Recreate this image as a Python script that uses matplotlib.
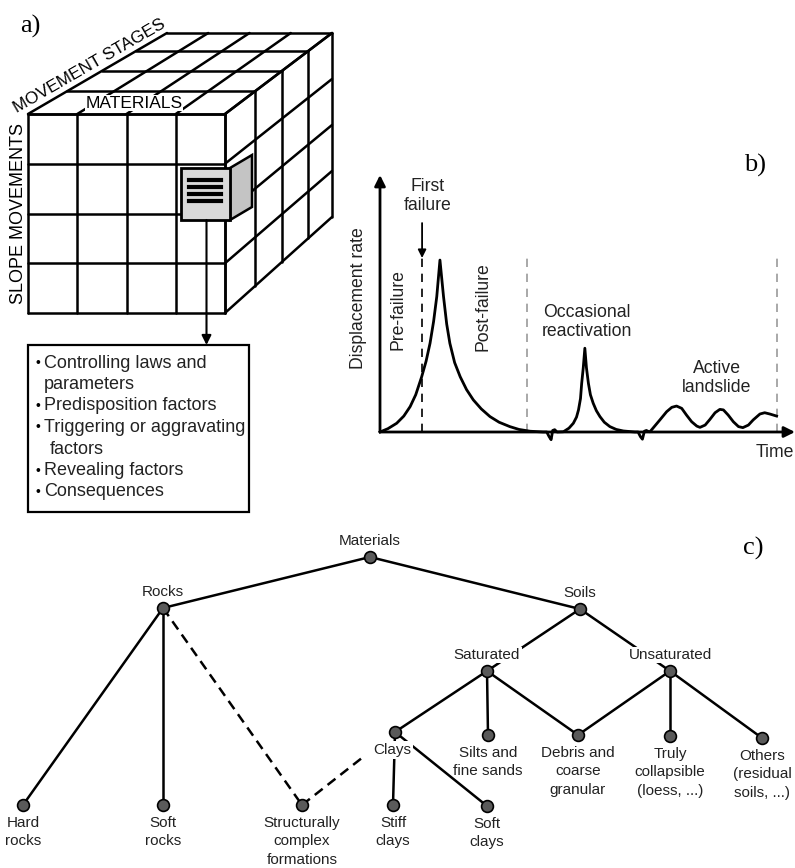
"""Landslide classification sketch: a) cube matrix, b) movement stages, c) materials tree."""
import matplotlib
matplotlib.use("Agg")
import matplotlib.pyplot as plt
from matplotlib.patches import Polygon, Rectangle

W, H = 795, 868
SANS = "Liberation Sans"
SERIF = "Liberation Serif"

# ---- panel a: cube (pixel space), 4 x 4 x 4 cells
cube_front = (28, 114, 225, 313)      # x0, y0, x1, y1
cube_back = (167, 33, 332, 217)
cube_cols = [0, 0.25, 0.5, 0.75, 1.0]
cube_rows = [0, 0.25, 0.5, 0.75, 1.0]
cube_depth = [0, 0.28, 0.53, 0.78, 1.0]
cell_front = (181, 168, 230, 220)
cell_shift = (22, -13)
cell_bar_rows = [0.23, 0.37, 0.50, 0.63]

box_lines = ["Controlling laws and", "parameters", "Predisposition factors",
             "Triggering or aggravating", "factors", "Revealing factors",
             "Consequences"]
box_bullet = [True, False, True, True, False, True, True]

# ---- panel b: displacement rate vs time (arbitrary units)
curve_t = [0, 2, 4.2, 6, 7.6, 9, 10.5, 11.6, 12.6, 13.5, 14.3, 15.1,
           16.0, 16.8, 17.6, 18.8, 20.2, 21.8, 23.5, 25.5, 27.7, 30, 32.7, 35, 37.8, 41.1,
           42.0, 42.6, 43.1, 43.5, 44.0, 44.6,
           46.2, 47.6, 48.7, 49.5, 50.0, 50.5, 50.8, 51.2, 51.6, 52.0, 52.5, 53.0,
           53.7, 54.5, 55.4, 56.5, 57.9, 59.5, 61.3, 64.2,
           65.0, 65.6, 66.1, 66.6, 67.1, 67.6,
           68.0, 70.5, 72.2, 73.5, 74.7, 76.0, 77.2, 78.5, 79.8, 80.6, 81.9, 83.1,
           84.4, 85.6, 86.5, 87.7, 89.0, 90.3, 91.4, 92.8, 94.0, 95.7, 96.9, 98.2,
           99.9]
curve_r = [0, 1.3, 3.4, 6.2, 9.9, 14.5, 21.5, 27.5, 34.5, 43, 52.7, 66.9,
           52.7, 42, 34.5, 27, 21.5, 16.5, 12.5, 9, 6.0, 3.8, 2.1, 1.0, 0.3, 0,
           0, -1.8, -3.0, 0.6, 0.9, 0,
           0.1, 1.5, 3.4, 5.8, 8.6, 13, 18.9, 25, 32.6, 25, 18.9, 14.5,
           11.2, 8.3, 6.0, 3.8, 2.1, 1.0, 0.4, 0,
           0, -1.8, -2.8, 0.3, 0.6, 0.2,
           0.1, 4.7, 7.9, 9.6, 10.1, 9.2, 6.6, 4.0, 2.3, 1.8, 2.7, 4.9,
           7.5, 8.8, 8.6, 6.6, 4.0, 2.1, 1.7, 2.7, 4.7, 7.0, 7.5, 7.0,
           6.2]
failure_t = 10.6
failure_top = 67.7
failure_arrow_start = 81.3
stage_bounds_t = [37.0, 100.0]
stage_bounds_top = [70.0, 69.6]

# ---- panel c: materials tree (pixel space)
nodes = {
    "mat": (370, 557, "Materials"),
    "rock": (163, 608, "Rocks"),
    "soil": (580, 609, "Soils"),
    "sat": (487, 671, "Saturated"),
    "unsat": (670, 671, "Unsaturated"),
    "hard": (23, 805, "Hard\nrocks"),
    "softr": (163, 805, "Soft\nrocks"),
    "struct": (302, 805, "Structurally\ncomplex\nformations"),
    "clay": (395, 732, "Clays"),
    "silt": (488, 735, "Silts and\nfine sands"),
    "debris": (578, 735, "Debris and\ncoarse\ngranular"),
    "truly": (670, 736, "Truly\ncollapsible\n(loess, ...)"),
    "other": (762, 738, "Others\n(residual\nsoils, ...)"),
    "stiff": (393, 805, "Stiff\nclays"),
    "softc": (487, 806, "Soft\nclays"),
}
edges = [("mat", "rock", "-"), ("mat", "soil", "-"),
         ("rock", "hard", "-"), ("rock", "softr", "-"), ("rock", "struct", "--"),
         ("struct", "clay", "--"),
         ("soil", "sat", "-"), ("soil", "unsat", "-"),
         ("sat", "clay", "-"), ("sat", "silt", "-"), ("sat", "debris", "-"),
         ("unsat", "debris", "-"), ("unsat", "truly", "-"), ("unsat", "other", "-"),
         ("clay", "stiff", "-"), ("clay", "softc", "-")]
upper_labels = {"mat", "rock", "soil", "sat", "unsat"}

fig = plt.figure(figsize=(W / 100, H / 100), dpi=100)
ax = fig.add_axes([0, 0, 1, 1])
ax.set_xlim(0, W)
ax.set_ylim(H, 0)
ax.axis("off")


def cube_pt(u, v, d):
    fx = cube_front[0] + u * (cube_front[2] - cube_front[0])
    fy = cube_front[1] + v * (cube_front[3] - cube_front[1])
    bx = cube_back[0] + u * (cube_back[2] - cube_back[0])
    by = cube_back[1] + v * (cube_back[3] - cube_back[1])
    return fx + d * (bx - fx), fy + d * (by - fy)


def seg(p, q, **kw):
    ax.plot([p[0], q[0]], [p[1], q[1]], color="black", **kw)


cube_kw = dict(lw=1.8, solid_capstyle="round", zorder=1)
for u in cube_cols:
    seg(cube_pt(u, 0, 0), cube_pt(u, 1, 0), **cube_kw)
    seg(cube_pt(u, 0, 0), cube_pt(u, 0, 1), **cube_kw)
for v in cube_rows:
    seg(cube_pt(0, v, 0), cube_pt(1, v, 0), **cube_kw)
    seg(cube_pt(1, v, 0), cube_pt(1, v, 1), **cube_kw)
for d in cube_depth:
    seg(cube_pt(0, 0, d), cube_pt(1, 0, d), **cube_kw)
    seg(cube_pt(1, 0, d), cube_pt(1, 1, d), **cube_kw)

# highlighted cell pulled out of the cube
x0, y0, x1, y1 = cell_front
sx, sy = cell_shift
ax.add_patch(Polygon([(x0, y0), (x1, y0), (x1 + sx, y0 + sy), (x1 + sx, y1 + sy),
                      (x1, y1), (x0, y1)], closed=True, fc="white", ec="none", zorder=2))
ax.add_patch(Polygon([(x1, y0), (x1 + sx, y0 + sy), (x1 + sx, y1 + sy), (x1, y1)],
                     closed=True, fc="#c4c4c4", ec="black", lw=1.8, zorder=3))
ax.add_patch(Rectangle((x0, y0), x1 - x0, y1 - y0, fc="#d9d9d9", ec="black",
                       lw=2.0, zorder=3))
for fr in cell_bar_rows:
    yb = y0 + fr * (y1 - y0)
    ax.plot([x0 + 8, x1 - 9], [yb, yb], color="black", lw=3.0, zorder=4)

arrow_x = (x0 + x1) / 2 + 1
ax.annotate("", xy=(arrow_x, 345), xytext=(arrow_x, y1),
            arrowprops=dict(arrowstyle="-|>", color="black", lw=1.5,
                            mutation_scale=14, shrinkA=0, shrinkB=0))

ax.text(134, 103, "MATERIALS", fontsize=12.5, family=SANS, ha="center", va="center",
        bbox=dict(fc="white", ec="none", pad=0.5), zorder=5)
ax.text(19, 213, "SLOPE MOVEMENTS", fontsize=13, family=SANS, rotation=90,
        ha="center", va="center")
ax.text(89, 66, "MOVEMENT STAGES", fontsize=12.4, family=SANS, rotation=30,
        ha="center", va="center", rotation_mode="anchor")

# factor box
ax.add_patch(Rectangle((28, 345), 221, 167, fc="white", ec="black", lw=1.6, zorder=1))
for i, (line, bullet) in enumerate(zip(box_lines, box_bullet)):
    yy = 363 + i * 21.5
    if bullet:
        ax.text(35, yy, "•", fontsize=10, family=SANS, ha="left", va="center")
    ax.text(44 if bullet or i == 1 else 50, yy, line, fontsize=13, family=SANS,
            ha="left", va="center", color="#222222")

# panel labels
ax.text(30, 26, "a)", fontsize=19, family=SERIF, ha="center", va="center")
ax.text(755, 165, "b)", fontsize=19, family=SERIF, ha="center", va="center")
ax.text(753, 548, "c)", fontsize=19, family=SERIF, ha="center", va="center")

# ---- panel b
ax_b = fig.add_axes([380 / W, 1 - 432 / H, (W - 380) / W, (432 - 175) / H])
ax_b.set_xlim(0, (W - 380) / 3.97)
ax_b.set_ylim(0, 100)
ax_b.axis("off")
ax_b.plot(curve_t, curve_r, color="black", lw=2.0, clip_on=False, zorder=3,
          solid_joinstyle="round")
arrow_kw = dict(arrowstyle="-|>", color="black", lw=2.0, mutation_scale=16,
                shrinkA=0, shrinkB=0)
ax_b.annotate("", xy=(0, 100), xytext=(0, 0), arrowprops=arrow_kw)
ax_b.annotate("", xy=(ax_b.get_xlim()[1], 0), xytext=(0, 0), arrowprops=arrow_kw)
ax_b.plot([failure_t, failure_t], [0, failure_top], color="black", lw=1.2,
          ls=(0, (5, 4)))
ax_b.annotate("", xy=(failure_t, failure_top), xytext=(failure_t, failure_arrow_start),
              arrowprops=dict(arrowstyle="-|>", color="black", lw=1.3,
                              mutation_scale=12, shrinkA=0, shrinkB=0))
for tb, top in zip(stage_bounds_t, stage_bounds_top):
    ax_b.plot([tb, tb], [0, top], color="#9a9a9a", lw=1.2, ls=(0, (5, 4)))

txt_kw = dict(fontsize=12.7, family=SANS, ha="center", va="center", color="#222222")
ax_b.text(12.1, 92, "First\nfailure", linespacing=1.15, **txt_kw)
ax_b.text(4.5, 47.5, "Pre-failure", rotation=90, **txt_kw)
ax_b.text(25.9, 48.6, "Post-failure", rotation=90, **txt_kw)
ax_b.text(52.1, 42.8, "Occasional\nreactivation", linespacing=1.1, **txt_kw)
ax_b.text(84.9, 21, "Active\nlandslide", linespacing=1.1, **txt_kw)
ax_b.text(99.5, -7.8, "Time", **txt_kw)
ax_b.text(-5.5, 52, "Displacement rate", rotation=90, **txt_kw)

# ---- panel c
for a, b, style in edges:
    xa, ya, _ = nodes[a]
    xb, yb, _ = nodes[b]
    if style == "--" and b == "clay":
        xb, yb = xa + 0.65 * (xb - xa), ya + 0.65 * (yb - ya)
    ax.plot([xa, xb], [ya, yb], color="black", lw=1.8,
            ls=(0, (4, 2.5)) if style == "--" else "-", zorder=1)

for key, (xn, yn, label) in nodes.items():
    ax.plot(xn, yn, "o", ms=8.5, mfc="#5a5a5a", mec="black", mew=1.2, zorder=4)
    lab_kw = dict(fontsize=11, family=SANS, ha="center", color="#222222",
                  linespacing=1.4)
    if key in upper_labels:
        ax.text(xn, yn - 16, label, va="center",
                bbox=dict(fc="white", ec="none", pad=1), zorder=3, **lab_kw)
    elif key == "clay":
        ax.text(xn - 3, yn + 18, label, va="center",
                bbox=dict(fc="white", ec="none", pad=1.5), zorder=3, **lab_kw)
    else:
        ax.text(xn, yn + 11, label, va="top", zorder=3, **lab_kw)

fig.savefig("out.png", dpi=100, facecolor="white")
